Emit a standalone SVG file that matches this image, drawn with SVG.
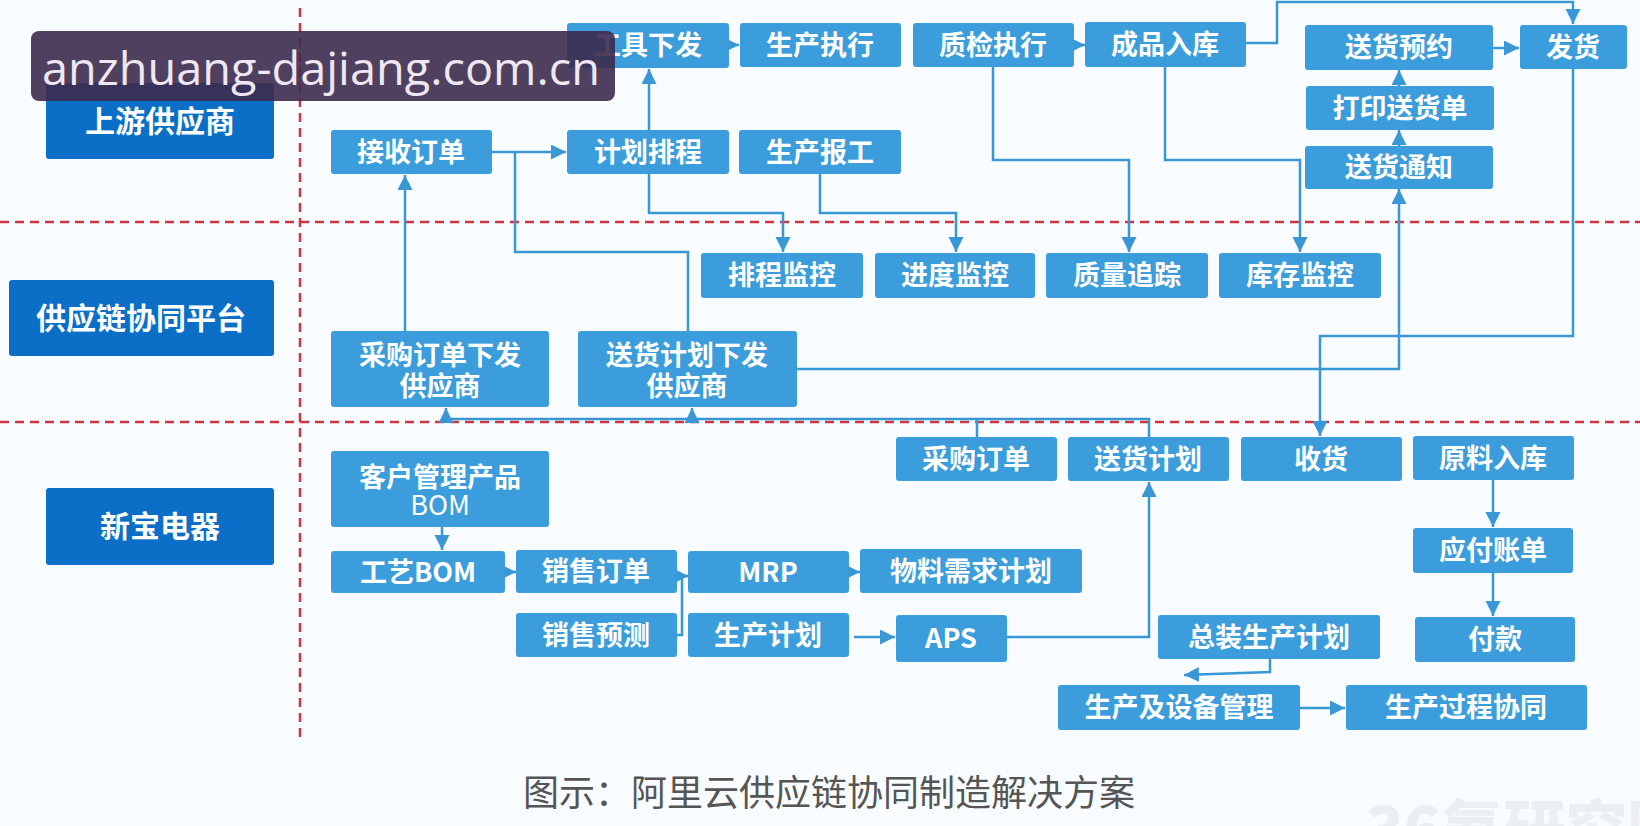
<svg xmlns="http://www.w3.org/2000/svg" width="1640" height="826" viewBox="0 0 1640 826">
<style>
.bg{fill:#f9fcfe}
.n{fill:#3b9ddb}
.lane{fill:#0b6fc8}
.t{fill:#ffffff;font-family:"Noto Sans CJK SC","Noto Sans",sans-serif;font-weight:700;font-size:27px;text-anchor:middle}
.lt{fill:#ffffff;font-family:"Noto Sans CJK SC","Noto Sans",sans-serif;font-weight:700;font-size:30px;text-anchor:middle}
.r{font-weight:400}
.div{stroke:#cf3440;stroke-width:2.5;stroke-dasharray:9 6;fill:none}
.c{stroke:#3a97d6;stroke-width:2.5;fill:none}
.a{marker-end:url(#ah)}
</style>
<defs>
<marker id="ah" markerUnits="userSpaceOnUse" markerWidth="16" markerHeight="16" refX="15" refY="7.5" orient="auto">
<path d="M0,0 L15,7.5 L0,15 z" fill="#3a97d6"/>
</marker>
</defs>
<rect class="bg" x="0" y="0" width="1640" height="826"/>

<g id="dividers">
<line class="div" x1="300" y1="8" x2="300" y2="738"/>
<line class="div" x1="0" y1="222" x2="1640" y2="222"/>
<line class="div" x1="0" y1="422" x2="1640" y2="422"/>
</g>

<g id="lanes">
<g id="lane-upstream"><rect class="lane" x="46" y="83" width="228" height="76" rx="3"/><text class="lt" x="160" y="132">上游供应商</text></g>
<g id="lane-platform"><rect class="lane" x="9" y="280" width="265" height="76" rx="3"/><text class="lt" x="141" y="329">供应链协同平台</text></g>
<g id="lane-xinbao"><rect class="lane" x="46" y="488" width="228" height="77" rx="3"/><text class="lt" x="160" y="537">新宝电器</text></g>
</g>

<g id="connectors">
<path class="c a" d="M492,152 H566"/>
<path class="c" d="M515,152 V252 H688 V331"/>
<path class="c a" d="M649,130 V69"/>
<path class="c a" d="M649,174 V213 H783 V252"/>
<path class="c a" d="M820,174 V213 H956 V252"/>
<path class="c a" d="M726,45 H739"/>
<path class="c a" d="M1071,45 H1085"/>
<path class="c a" d="M993,67 V160 H1129 V252"/>
<path class="c a" d="M1165,67 V160 H1300 V252"/>
<path class="c a" d="M1246,43 H1277 V2 H1573 V24"/>
<path class="c a" d="M1493,48 H1519"/>
<path class="c a" d="M1399,86 V70"/>
<path class="c a" d="M1399,146 V130"/>
<path class="c a" d="M797,369 H1399 V189"/>
<path class="c a" d="M1573,69 V336 H1320 V436"/>
<path class="c a" d="M405,331 V175"/>
<path class="c a" d="M977,437 V419 H446 V408"/>
<path class="c a" d="M692,419 V408"/>
<path class="c" d="M1149,437 V419 H977"/>
<path class="c a" d="M1007,637 H1149 V482"/>
<path class="c a" d="M854,637 H895"/>
<path class="c a" d="M442,527 V550"/>
<path class="c a" d="M503,572 H516"/>
<path class="c a" d="M676,635 H682 V576 H688"/>
<path class="c a" d="M676,576 H688"/>
<path class="c a" d="M847,572 H860"/>
<path class="c a" d="M1493,480 V527"/>
<path class="c a" d="M1493,573 V616"/>
<path class="c a" d="M1270,659 V672 L1184,675"/>
<path class="c a" d="M1300,708 H1345"/>
</g>

<g id="n-gjxf"><rect class="n" x="567" y="23" width="162" height="45" rx="3"/><text class="t" x="648" y="55">工具下发</text></g>
<g id="n-sczx"><rect class="n" x="740" y="23" width="161" height="44" rx="3"/><text class="t" x="820" y="55">生产执行</text></g>
<g id="n-zjzx"><rect class="n" x="913" y="23" width="161" height="44" rx="3"/><text class="t" x="993" y="55">质检执行</text></g>
<g id="n-cprk"><rect class="n" x="1085" y="22" width="161" height="45" rx="3"/><text class="t" x="1165" y="54">成品入库</text></g>
<g id="n-shyy"><rect class="n" x="1305" y="25" width="188" height="45" rx="3"/><text class="t" x="1399" y="57">送货预约</text></g>
<g id="n-fh"><rect class="n" x="1520" y="25" width="107" height="44" rx="3"/><text class="t" x="1573" y="57">发货</text></g>
<g id="n-dyshd"><rect class="n" x="1306" y="86" width="188" height="44" rx="3"/><text class="t" x="1400" y="118">打印送货单</text></g>
<g id="n-shtz"><rect class="n" x="1305" y="146" width="188" height="43" rx="3"/><text class="t" x="1399" y="177">送货通知</text></g>
<g id="n-jsdd"><rect class="n" x="331" y="130" width="161" height="44" rx="3"/><text class="t" x="411" y="162">接收订单</text></g>
<g id="n-jhpc"><rect class="n" x="567" y="130" width="162" height="44" rx="3"/><text class="t" x="648" y="162">计划排程</text></g>
<g id="n-scbg"><rect class="n" x="739" y="130" width="162" height="44" rx="3"/><text class="t" x="820" y="162">生产报工</text></g>

<g id="n-pcjk"><rect class="n" x="701" y="253" width="162" height="45" rx="3"/><text class="t" x="782" y="285">排程监控</text></g>
<g id="n-jdjk"><rect class="n" x="875" y="253" width="160" height="45" rx="3"/><text class="t" x="955" y="285">进度监控</text></g>
<g id="n-zlzz"><rect class="n" x="1046" y="253" width="162" height="45" rx="3"/><text class="t" x="1127" y="285">质量追踪</text></g>
<g id="n-kcjk"><rect class="n" x="1219" y="253" width="162" height="45" rx="3"/><text class="t" x="1300" y="285">库存监控</text></g>
<g id="n-cgddxf"><rect class="n" x="331" y="331" width="218" height="76" rx="3"/><text class="t" x="440" y="365">采购订单下发<tspan x="440" dy="31">供应商</tspan></text></g>
<g id="n-shjhxf"><rect class="n" x="578" y="331" width="219" height="76" rx="3"/><text class="t" x="687" y="365">送货计划下发<tspan x="687" dy="31">供应商</tspan></text></g>

<g id="n-khgl"><rect class="n" x="331" y="451" width="218" height="76" rx="3"/><text class="t" x="440" y="487">客户管理产品<tspan class="r" x="440" dy="28">BOM</tspan></text></g>
<g id="n-gybom"><rect class="n" x="331" y="551" width="174" height="42" rx="3"/><text class="t" x="418" y="582">工艺BOM</text></g>
<g id="n-xsdd"><rect class="n" x="516" y="550" width="161" height="43" rx="3"/><text class="t" x="596" y="581">销售订单</text></g>
<g id="n-xsyc"><rect class="n" x="516" y="613" width="161" height="44" rx="3"/><text class="t" x="596" y="645">销售预测</text></g>
<g id="n-mrp"><rect class="n" x="688" y="551" width="161" height="42" rx="3"/><text class="t" x="768" y="582">MRP</text></g>
<g id="n-scjh"><rect class="n" x="688" y="613" width="161" height="44" rx="3"/><text class="t" x="768" y="645">生产计划</text></g>
<g id="n-wlxq"><rect class="n" x="860" y="549" width="222" height="44" rx="3"/><text class="t" x="971" y="581">物料需求计划</text></g>
<g id="n-aps"><rect class="n" x="896" y="615" width="111" height="47" rx="3"/><text class="t" x="951" y="648">APS</text></g>
<g id="n-cgdd"><rect class="n" x="896" y="437" width="161" height="44" rx="3"/><text class="t" x="976" y="469">采购订单</text></g>
<g id="n-shjh"><rect class="n" x="1068" y="437" width="161" height="44" rx="3"/><text class="t" x="1148" y="469">送货计划</text></g>
<g id="n-sh"><rect class="n" x="1241" y="437" width="161" height="44" rx="3"/><text class="t" x="1321" y="469">收货</text></g>
<g id="n-ylrk"><rect class="n" x="1413" y="436" width="161" height="44" rx="3"/><text class="t" x="1493" y="468">原料入库</text></g>
<g id="n-yfzd"><rect class="n" x="1413" y="528" width="160" height="45" rx="3"/><text class="t" x="1493" y="560">应付账单</text></g>
<g id="n-fk"><rect class="n" x="1415" y="617" width="160" height="45" rx="3"/><text class="t" x="1495" y="649">付款</text></g>
<g id="n-zzscjh"><rect class="n" x="1158" y="615" width="222" height="44" rx="3"/><text class="t" x="1269" y="647">总装生产计划</text></g>
<g id="n-scsbgl"><rect class="n" x="1058" y="685" width="242" height="45" rx="3"/><text class="t" x="1179" y="717">生产及设备管理</text></g>
<g id="n-scgcxt"><rect class="n" x="1346" y="685" width="241" height="45" rx="3"/><text class="t" x="1466" y="717">生产过程协同</text></g>

<text x="523" y="806" style="fill:#555555;font-family:'Noto Sans CJK SC','Noto Sans',sans-serif;font-size:36px">图示：阿里云供应链协同制造解决方案</text>
<text x="1366" y="852" style="fill:#eceff2;font-family:'Noto Sans CJK SC','Noto Sans',sans-serif;font-weight:900;font-size:62px">36氪研究院</text>

<g id="watermark">
<rect x="31" y="31" width="584" height="70" rx="8" fill="#3d2b4e" opacity="0.9"/>
<text x="42" y="85" textLength="558" lengthAdjust="spacingAndGlyphs" style="fill:#efe7f2;font-family:'Open Sans','Noto Sans',sans-serif;font-size:46px">anzhuang-dajiang.com.cn</text>
</g>
</svg>
